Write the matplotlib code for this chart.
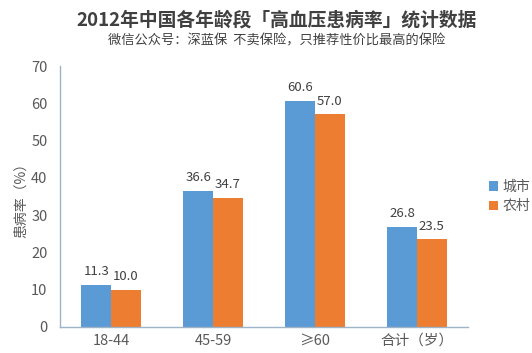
import matplotlib.pyplot as plt
import numpy as np

plt.rcParams['font.family'] = ['Noto Sans CJK SC', 'DejaVu Sans']

# ==========================
# Data
# ==========================

categories = ["18-44", "45-59", "≥60", "合计（岁）"]
city = [11.3, 36.6, 60.6, 26.8]
rural = [10.0, 34.7, 57.0, 23.5]

BLUE = "#5B9BD5"
ORANGE = "#ED7D31"
TEXT = "#595959"
AXIS = "#9DB3C8"

# ==========================
# Plot
# ==========================

fig = plt.figure(figsize=(5.32, 3.53), dpi=100)
ax = fig.add_axes([0.1128, 0.0737, 0.767, 0.7393])

x = np.arange(len(categories))
w = 0.29
b1 = ax.bar(x - w / 2, city, w, color=BLUE, label="城市")
b2 = ax.bar(x + w / 2, rural, w, color=ORANGE, label="农村")

for bars, vals in ((b1, city), (b2, rural)):
    for rect, v in zip(bars, vals):
        ax.text(rect.get_x() + rect.get_width() / 2, v + 1.8, f"{v:.1f}",
                ha="center", va="bottom", fontsize=9.5, color="#404040")

ax.set_xlim(-0.5, 3.5)
ax.set_ylim(0, 70)
ax.set_yticks(range(0, 71, 10))
ax.set_xticks(x)
ax.set_xticklabels(categories)
ax.tick_params(length=0, labelsize=10.5, colors=TEXT)
ax.tick_params(axis="y", pad=9)
ax.tick_params(axis="x", pad=5)

for s in ("top", "right"):
    ax.spines[s].set_visible(False)
for s in ("left", "bottom"):
    ax.spines[s].set_color(AXIS)
    ax.spines[s].set_linewidth(1)

ax.set_ylabel("患病率（%）", fontsize=10, color=TEXT, labelpad=2)

ax.legend(loc="center left", bbox_to_anchor=(1.02, 0.5), frameon=False,
          fontsize=10, handlelength=0.7, handleheight=0.7, handletextpad=0.3,
          labelspacing=0.4, labelcolor=TEXT)

fig.text(0.52, 0.943, "2012年中国各年龄段「高血压患病率」统计数据",
         ha="center", va="center", fontsize=13.5, fontweight="bold", color="#404040")
fig.text(0.52, 0.885, "微信公众号：深蓝保  不卖保险，只推荐性价比最高的保险",
         ha="center", va="center", fontsize=9.5, color="#404040")

fig.savefig("out.png", dpi=100)
